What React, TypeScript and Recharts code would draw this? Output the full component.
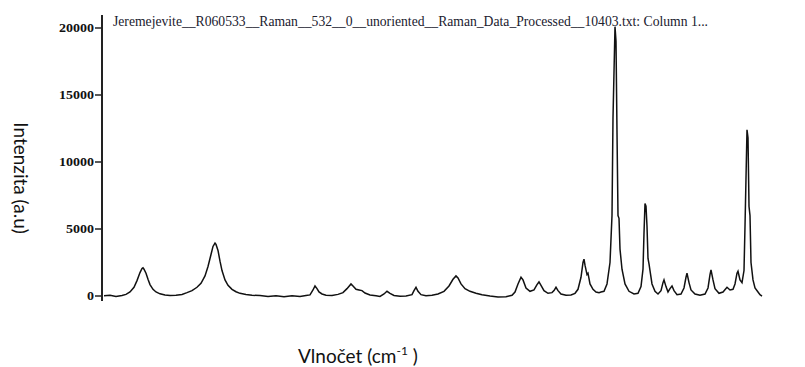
import React from "react";
import { LineChart, Line, XAxis, YAxis } from "recharts";

// Raman shift (cm-1) and processed intensity, read point by point
const wavenumbers = [
  104, 116, 128, 140, 148, 156, 164, 170, 176, 180, 182, 184, 188, 192, 196, 202,
  208, 216, 226, 236, 248, 260, 270, 280, 290, 298, 306, 312, 318, 322, 326, 328,
  332, 336, 340, 346, 352, 360, 368, 376, 388, 400, 416, 432, 448, 464, 480, 496,
  508, 516, 522, 526, 530, 534, 540, 548, 560, 572, 582, 590, 598, 602, 608, 614,
  620, 626, 636, 648, 656, 664, 670, 676, 684, 696, 708, 720, 724, 728, 732, 738,
  748, 760, 772, 784, 794, 802, 808, 812, 818, 826, 836, 848, 860, 876, 892, 908,
  920, 926, 932, 938, 942, 948, 956, 964, 970, 974, 978, 984, 992, 1000, 1004, 1008,
  1012, 1018, 1028, 1038, 1046, 1052, 1058, 1062, 1064, 1066, 1070, 1072, 1076, 1082, 1088, 1094,
  1098, 1104, 1110, 1116, 1120, 1122, 1126, 1128, 1130, 1132, 1134, 1136, 1140, 1146, 1154, 1164,
  1172, 1178, 1182, 1184, 1186, 1188, 1190, 1192, 1194, 1196, 1200, 1206, 1212, 1218, 1222, 1224,
  1228, 1232, 1236, 1240, 1244, 1250, 1258, 1264, 1268, 1270, 1274, 1278, 1286, 1296, 1306, 1312,
  1316, 1318, 1322, 1326, 1334, 1342, 1350, 1356, 1362, 1366, 1370, 1372, 1376, 1380, 1384, 1386,
  1390, 1392, 1394, 1396, 1398, 1402, 1406, 1412, 1416, 1420,
];

const intensities = [
  20, 60, -40, 40, 120, 300, 650, 1150, 1750, 2050, 2100, 2000, 1700, 1250, 850, 500,
  300, 160, 80, 40, 60, 120, 250, 400, 650, 950, 1500, 2200, 3100, 3700, 3950, 3850,
  3400, 2600, 1900, 1200, 800, 500, 320, 200, 120, 60, 30, -30, 10, -60, 20, -40,
  30, 80, 450, 750, 550, 300, 150, 60, 40, 120, 250, 550, 900, 750, 500, 450,
  400, 220, 80, 20, -30, 150, 350, 200, 40, -20, 0, 100, 400, 650, 350, 100,
  20, 60, 150, 350, 750, 1250, 1500, 1350, 900, 550, 350, 200, 100, 0, -80, -60,
  50, 300, 900, 1400, 1200, 600, 350, 450, 850, 1050, 800, 400, 200, 250, 400, 650,
  400, 150, 50, 80, 200, 500, 1400, 2500, 2750, 2300, 1600, 1700, 900, 500, 300, 250,
  300, 350, 900, 2500, 6000, 13300, 20100, 19000, 12200, 6000, 5800, 3500, 2000, 900, 350, 150,
  200, 700, 2000, 4700, 6900, 6700, 5200, 2800, 2400, 1900, 900, 350, 150, 400, 1000, 1200,
  700, 300, 550, 750, 400, 100, 150, 600, 1400, 1700, 1000, 450, 150, 50, 150, 600,
  1600, 1950, 1200, 550, 200, 300, 650, 450, 500, 900, 1700, 1850, 1200, 1000, 1900, 5200,
  12400, 11800, 6700, 6000, 2500, 1200, 600, 300, 100, 0,
];

const intensityTicks = [0, 5000, 10000, 15000, 20000];

const spectrum = wavenumbers.map((wn, i) => ({ wn, intensity: intensities[i] }));

const TITLE =
  "Jeremejevite__R060533__Raman__532__0__unoriented__Raman_Data_Processed__10403.txt: Column 1...";

function IntensityTick(props: any) {
  const { x, y, payload } = props;
  const label = String(payload.value);
  return (
    <text
      x={x}
      y={y}
      dy={4}
      textAnchor="end"
      fontFamily="'Liberation Serif', serif"
      fontWeight="bold"
      fontSize={12}
      fill="#111"
      textLength={label.length * 7}
      lengthAdjust="spacingAndGlyphs"
    >
      {label}
    </text>
  );
}

export default function App() {
  return (
    <div style={{ position: "absolute", left: 0, top: 0, width: 805, height: 367, background: "#fff" }}>
      <LineChart
        width={805}
        height={367}
        data={spectrum}
        margin={{ top: 15, right: 2, bottom: 66, left: 0 }}
      >
        <XAxis
          dataKey="wn"
          type="number"
          domain={[100, 1502]}
          tick={false}
          tickLine={false}
          height={0}
          axisLine={{ stroke: "#222", strokeWidth: 2 }}
        />
        <YAxis
          type="number"
          width={102}
          domain={[-373, 20970]}
          ticks={intensityTicks}
          allowDataOverflow
          tickSize={7}
          tickMargin={1}
          tick={<IntensityTick />}
          tickLine={{ stroke: "#222", strokeWidth: 1.5 }}
          axisLine={{ stroke: "#222", strokeWidth: 2 }}
        />
        <Line
          type="linear"
          dataKey="intensity"
          stroke="#111"
          strokeWidth={1.5}
          dot={false}
          isAnimationActive={false}
        />
      </LineChart>
      <svg
        width={805}
        height={367}
        style={{ position: "absolute", left: 0, top: 0, pointerEvents: "none" }}
      >
        <text
          x={113}
          y={26}
          fontFamily="'Liberation Serif', serif"
          fontSize={14.5}
          fill="#20202e"
          textLength={595}
          lengthAdjust="spacingAndGlyphs"
        >
          {TITLE}
        </text>
        <text
          x={14}
          y={178}
          transform="rotate(90 14 178)"
          textAnchor="middle"
          fontFamily="Lato, sans-serif"
          fontSize={19}
          fill="#111"
        >
          Intenzita (a.u)
        </text>
        <text x={298} y={363} fontFamily="Lato, sans-serif" fontSize={19} fill="#111">
          <tspan>Vlnočet (cm</tspan>
          <tspan dy={-8} fontSize={12}>-1</tspan>
          <tspan dy={8}> )</tspan>
        </text>
      </svg>
    </div>
  );
}
